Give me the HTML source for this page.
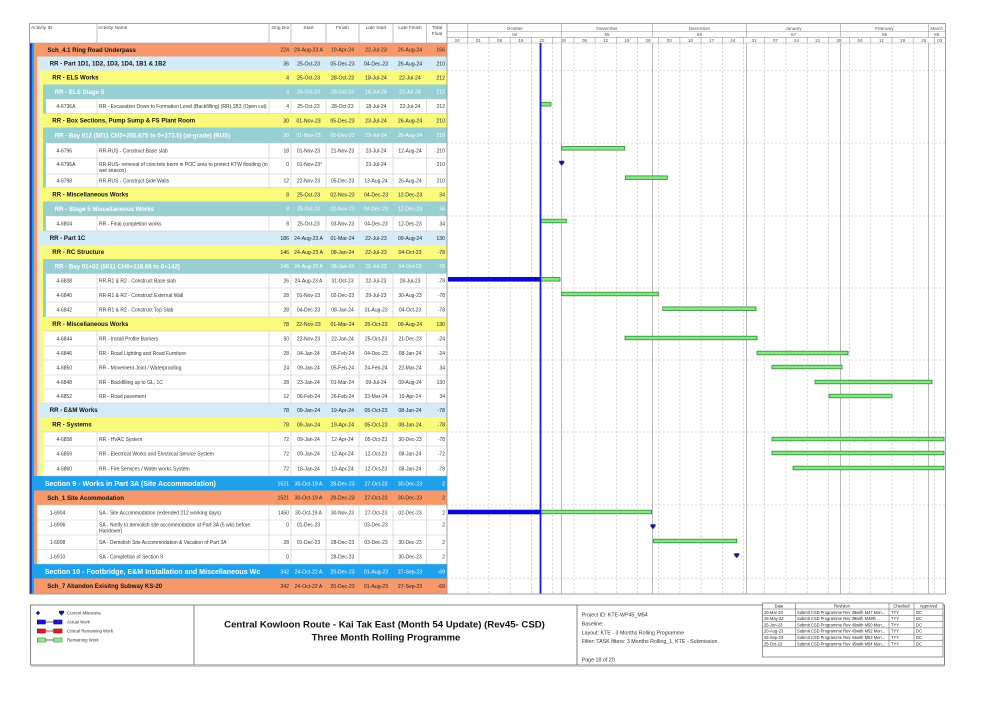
<!DOCTYPE html>
<html><head><meta charset="utf-8"><style>
html,body{margin:0;padding:0;background:#fff;}
svg{display:block;}
.a{font-size:5px;fill:#333;}
.g{font-size:6.1px;font-weight:bold;fill:#111;}
.s{font-size:7.1px;font-weight:bold;fill:#fff;}
.n{font-size:5.2px;fill:#222;}
.w{fill:#fff;}
.c{text-anchor:middle;}
.e{text-anchor:end;}
.h{font-size:4.8px;fill:#444;}
.t{font-size:4.6px;fill:#555;}
.lg{font-size:4.3px;fill:#333;}
.rv{font-size:4.1px;fill:#222;}
.pi{font-size:5.3px;fill:#333;}
</style></head><body>
<svg width="1001" height="708" viewBox="0 0 1001 708" font-family="Liberation Sans, Arial, sans-serif">
<rect width="1001" height="708" fill="#fff"/>

<!-- group blocks -->
<rect x="30" y="43" width="417" height="550.5" fill="#1c2fb0"/>
<rect x="31.8" y="43" width="415.2" height="550.5" fill="#1ea1ea"/>
<rect x="34" y="43" width="413" height="433" fill="#f8996b"/>
<rect x="34" y="490.5" width="413" height="73.5" fill="#f8996b"/>
<rect x="34" y="578.5" width="413" height="15" fill="#f8996b"/>
<rect x="37" y="56.5" width="410" height="174.5" fill="#d5ebf7"/>
<rect x="37" y="231" width="410" height="172" fill="#d5ebf7"/>
<rect x="37" y="403" width="410" height="73" fill="#d5ebf7"/>
<rect x="40" y="70.5" width="407" height="43" fill="#fafa7d"/>
<rect x="40" y="113.5" width="407" height="74" fill="#fafa7d"/>
<rect x="40" y="187.5" width="407" height="43.5" fill="#fafa7d"/>
<rect x="40" y="245" width="407" height="72" fill="#fafa7d"/>
<rect x="40" y="317" width="407" height="86" fill="#fafa7d"/>
<rect x="40" y="417" width="407" height="59" fill="#fafa7d"/>
<rect x="43" y="84.5" width="404" height="29" fill="#98cfd3"/>
<rect x="43" y="127.5" width="404" height="60" fill="#98cfd3"/>
<rect x="43" y="201.5" width="404" height="29.5" fill="#98cfd3"/>
<rect x="43" y="259" width="404" height="58" fill="#98cfd3"/>
<!-- white activity rows -->
<rect x="46" y="99" width="401" height="14.5" fill="#fff"/>
<rect x="46" y="143" width="401" height="44.5" fill="#fff"/>
<rect x="46" y="216" width="401" height="15" fill="#fff"/>
<rect x="46" y="273.5" width="401" height="43.5" fill="#fff"/>
<rect x="43" y="331" width="404" height="72" fill="#fff"/>
<rect x="43" y="432" width="404" height="44" fill="#fff"/>
<rect x="37" y="505" width="410" height="59" fill="#fff"/>

<!-- row lines in activity areas -->
<g stroke="#c8c8c8" stroke-width="0.6">
<line x1="46" y1="99" x2="447" y2="99"/><line x1="46" y1="113.5" x2="447" y2="113.5"/>
<line x1="46" y1="143" x2="447" y2="143"/><line x1="46" y1="158" x2="447" y2="158"/><line x1="46" y1="174" x2="447" y2="174"/><line x1="46" y1="187.5" x2="447" y2="187.5"/>
<line x1="46" y1="216" x2="447" y2="216"/><line x1="46" y1="231" x2="447" y2="231"/>
<line x1="46" y1="273.5" x2="447" y2="273.5"/><line x1="46" y1="288" x2="447" y2="288"/><line x1="46" y1="302" x2="447" y2="302"/><line x1="46" y1="317" x2="447" y2="317"/>
<line x1="43" y1="331" x2="447" y2="331"/><line x1="43" y1="346" x2="447" y2="346"/><line x1="43" y1="360" x2="447" y2="360"/><line x1="43" y1="375" x2="447" y2="375"/><line x1="43" y1="389" x2="447" y2="389"/><line x1="43" y1="403" x2="447" y2="403"/>
<line x1="43" y1="432" x2="447" y2="432"/><line x1="43" y1="446" x2="447" y2="446"/><line x1="43" y1="461" x2="447" y2="461"/><line x1="43" y1="476" x2="447" y2="476"/>
<line x1="37" y1="505" x2="447" y2="505"/><line x1="37" y1="520" x2="447" y2="520"/><line x1="37" y1="535" x2="447" y2="535"/><line x1="37" y1="549.5" x2="447" y2="549.5"/><line x1="37" y1="564" x2="447" y2="564"/>
</g>
<!-- column lines in activity rows -->
<g stroke="#c8c8c8" stroke-width="0.6">
<path d="M97 99V113.5M269 99V113.5M291 99V113.5M326 99V113.5M359 99V113.5M393 99V113.5M426.7 99V113.5"/>
<path d="M97 143V187.5M269 143V187.5M291 143V187.5M326 143V187.5M359 143V187.5M393 143V187.5M426.7 143V187.5"/>
<path d="M97 216V231M269 216V231M291 216V231M326 216V231M359 216V231M393 216V231M426.7 216V231"/>
<path d="M97 273.5V317M269 273.5V317M291 273.5V317M326 273.5V317M359 273.5V317M393 273.5V317M426.7 273.5V317"/>
<path d="M97 331V403M269 331V403M291 331V403M326 331V403M359 331V403M393 331V403M426.7 331V403"/>
<path d="M97 432V476M269 432V476M291 432V476M326 432V476M359 432V476M393 432V476M426.7 432V476"/>
<path d="M97 505V564M269 505V564M291 505V564M326 505V564M359 505V564M393 505V564M426.7 505V564"/>
</g>

<!-- table header -->
<rect x="30" y="24" width="417" height="19" fill="#fff"/>
<g stroke="#9a9a9a" stroke-width="0.6">
<path d="M97 24V43M269 24V43M291 24V43M326 24V43M359 24V43M393 24V43M426.7 24V43"/>
<line x1="30" y1="43" x2="945" y2="43"/>
</g>
<text class="h" x="31" y="29">Activity ID</text>
<text class="h" x="98" y="29">Activity Name</text>
<text class="h" x="271.5" y="29">Orig Dur</text>
<text class="h c" x="308.5" y="29">Start</text>
<text class="h c" x="342.5" y="29">Finish</text>
<text class="h c" x="376" y="29">Late Start</text>
<text class="h c" x="410" y="29">Late Finish</text>
<text class="h c" x="437" y="29">Total</text>
<text class="h c" x="437" y="35">Float</text>

<!-- timeline header -->
<g stroke="#9a9a9a" stroke-width="0.6" fill="none">
<line x1="447" y1="31.5" x2="945" y2="31.5"/>
<line x1="447" y1="37.3" x2="945" y2="37.3"/>
<path d="M467.8 24V37.3M561.7 24V37.3M652.6 24V37.3M746.6 24V37.3M840.5 24V37.3M928.4 24V37.3"/>
<path d="M467.8 37.3V43M489 37.3V43M510.2 37.3V43M531.4 37.3V43M552.6 37.3V43M573.9 37.3V43M595.1 37.3V43M616.3 37.3V43M637.5 37.3V43M658.7 37.3V43M679.9 37.3V43M701.1 37.3V43M722.3 37.3V43M743.5 37.3V43M764.7 37.3V43M786 37.3V43M807.2 37.3V43M828.4 37.3V43M849.6 37.3V43M870.8 37.3V43M892 37.3V43M913.2 37.3V43M934.4 37.3V43"/>
</g>
<g class="t c">
<text x="514.8" y="30">October</text><text x="607" y="30">November</text><text x="699.6" y="30">December</text><text x="793.5" y="30">January</text><text x="884.5" y="30">February</text><text x="936.7" y="30">March</text>
<text x="514.8" y="36">54</text><text x="607" y="36">55</text><text x="699.6" y="36">56</text><text x="793.5" y="36">57</text><text x="884.5" y="36">58</text><text x="936.7" y="36">59</text>
<text x="457.2" y="41.8">24</text><text x="478.4" y="41.8">01</text><text x="499.6" y="41.8">08</text><text x="520.8" y="41.8">15</text><text x="542" y="41.8">22</text><text x="563.3" y="41.8">29</text><text x="584.5" y="41.8">05</text><text x="605.7" y="41.8">12</text><text x="626.9" y="41.8">19</text><text x="648.1" y="41.8">26</text><text x="669.3" y="41.8">03</text><text x="690.5" y="41.8">10</text><text x="711.7" y="41.8">17</text><text x="732.9" y="41.8">24</text><text x="754.1" y="41.8">31</text><text x="775.4" y="41.8">07</text><text x="796.6" y="41.8">14</text><text x="817.8" y="41.8">21</text><text x="839" y="41.8">28</text><text x="860.2" y="41.8">04</text><text x="881.4" y="41.8">11</text><text x="902.6" y="41.8">18</text><text x="923.8" y="41.8">25</text><text x="939.7" y="41.8">03</text>
</g>

<!-- timeline grid -->
<g stroke="#bdbdbd" stroke-width="0.6" stroke-dasharray="2,2">
<path d="M467.8 43V593.5M489 43V593.5M510.2 43V593.5M531.4 43V593.5M552.6 43V593.5M573.9 43V593.5M595.1 43V593.5M616.3 43V593.5M637.5 43V593.5M658.7 43V593.5M679.9 43V593.5M701.1 43V593.5M722.3 43V593.5M743.5 43V593.5M764.7 43V593.5M786 43V593.5M807.2 43V593.5M828.4 43V593.5M849.6 43V593.5M870.8 43V593.5M892 43V593.5M913.2 43V593.5M934.4 43V593.5"/>
<path d="M447 70.5H945M447 143H945M447 216H945M447 288H945M447 360H945M447 432H945M447 505H945M447 578.5H945"/>
</g>
<g stroke="#9a9a9a" stroke-width="0.7">
<path d="M561.7 43V593.5M652.6 43V593.5M746.6 43V593.5M840.5 43V593.5M928.4 43V593.5"/>
</g>

<!-- outer frame -->
<rect x="29.5" y="23.5" width="916" height="570.5" fill="none" stroke="#8a8a8a" stroke-width="0.8"/>
<line x1="447" y1="23.5" x2="447" y2="594" stroke="#8a8a8a" stroke-width="0.8"/>

<!-- rows text -->
<!-- r1 -->
<text class="g" x="47.5" y="52">Sch_4.1 Ring Road Underpass</text>
<text class="n e" x="289" y="51.6">224</text><text class="n c" x="308.5" y="51.6">24-Aug-23 A</text><text class="n c" x="342.5" y="51.6">19-Apr-24</text><text class="n c" x="376" y="51.6">22-Jul-23</text><text class="n c" x="410" y="51.6">26-Aug-24</text><text class="n e" x="445" y="51.6">166</text>
<!-- r2 -->
<text class="g" x="49.7" y="65.6">RR - Part 1D1, 1D2, 1D3, 1D4, 1B1 &amp; 1B2</text>
<text class="n e" x="289" y="65.3">36</text><text class="n c" x="308.5" y="65.3">25-Oct-23</text><text class="n c" x="342.5" y="65.3">05-Dec-23</text><text class="n c" x="376" y="65.3">04-Dec-23</text><text class="n c" x="410" y="65.3">26-Aug-24</text><text class="n e" x="445" y="65.3">210</text>
<!-- r3 -->
<text class="g" x="52.3" y="79.6">RR - ELS Works</text>
<text class="n e" x="289" y="79.3">4</text><text class="n c" x="308.5" y="79.3">25-Oct-23</text><text class="n c" x="342.5" y="79.3">28-Oct-23</text><text class="n c" x="376" y="79.3">18-Jul-24</text><text class="n c" x="410" y="79.3">22-Jul-24</text><text class="n e" x="445" y="79.3">212</text>
<!-- r4 teal -->
<text class="g w" x="54.7" y="93.9">RR - ELS Stage 5</text>
<text class="n e w" x="289" y="93.6">4</text><text class="n c w" x="308.5" y="93.6">25-Oct-23</text><text class="n c w" x="342.5" y="93.6">28-Oct-23</text><text class="n c w" x="376" y="93.6">18-Jul-24</text><text class="n c w" x="410" y="93.6">22-Jul-24</text><text class="n e w" x="445" y="93.6">212</text>
<!-- r5 -->
<text class="a" x="56.5" y="108">4-6736A</text><text class="a" x="99" y="108">RR - Excavation Down to Formation Level (Backfilling) (RR),1B3 (Open cut)</text>
<text class="a e" x="289" y="108">4</text><text class="a c" x="308.5" y="108">25-Oct-23</text><text class="a c" x="342.5" y="108">28-Oct-23</text><text class="a c" x="376" y="108">18-Jul-24</text><text class="a c" x="410" y="108">22-Jul-24</text><text class="a e" x="445" y="108">212</text>
<!-- r6 -->
<text class="g" x="52.3" y="122.6">RR - Box Sections, Pump Sump &amp; FS Plant Room</text>
<text class="n e" x="289" y="122.3">30</text><text class="n c" x="308.5" y="122.3">01-Nov-23</text><text class="n c" x="342.5" y="122.3">05-Dec-23</text><text class="n c" x="376" y="122.3">23-Jul-24</text><text class="n c" x="410" y="122.3">26-Aug-24</text><text class="n e" x="445" y="122.3">210</text>
<!-- r7 teal -->
<text class="g w" x="54.7" y="137.4">RR - Bay 812 (5011 CH0+265.675 to 0+273.5) (at-grade) (RUS)</text>
<text class="n e w" x="289" y="137.1">30</text><text class="n c w" x="308.5" y="137.1">01-Nov-23</text><text class="n c w" x="342.5" y="137.1">05-Dec-23</text><text class="n c w" x="376" y="137.1">23-Jul-24</text><text class="n c w" x="410" y="137.1">26-Aug-24</text><text class="n e w" x="445" y="137.1">210</text>
<!-- r8 -->
<text class="a" x="56.5" y="152.3">4-6796</text><text class="a" x="99" y="152.3">RR-RUS - Construct Base slab</text>
<text class="a e" x="289" y="152.3">18</text><text class="a c" x="308.5" y="152.3">01-Nov-23</text><text class="a c" x="342.5" y="152.3">21-Nov-23</text><text class="a c" x="376" y="152.3">23-Jul-24</text><text class="a c" x="410" y="152.3">12-Aug-24</text><text class="a e" x="445" y="152.3">210</text>
<!-- r9 -->
<text class="a" x="56.5" y="165.8">4-6796A</text><text class="a" x="99" y="165.8">RR-RUS- removal of concrete berm in POC area to protect KTW flooding (in</text><text class="a" x="99" y="171.8">wet season)</text>
<text class="a e" x="289" y="165.8">0</text><text class="a c" x="309.5" y="165.8">01-Nov-23*</text><text class="a c" x="376" y="165.8">23-Jul-24</text><text class="a e" x="445" y="165.8">210</text>
<!-- r10 -->
<text class="a" x="56.5" y="182.5">4-6798</text><text class="a" x="99" y="182.5">RR-RUS - Construct Side Walls</text>
<text class="a e" x="289" y="182.5">12</text><text class="a c" x="308.5" y="182.5">22-Nov-23</text><text class="a c" x="342.5" y="182.5">05-Dec-23</text><text class="a c" x="376" y="182.5">13-Aug-24</text><text class="a c" x="410" y="182.5">26-Aug-24</text><text class="a e" x="445" y="182.5">210</text>
<!-- r11 -->
<text class="g" x="52.3" y="196.6">RR - Miscellaneous Works</text>
<text class="n e" x="289" y="196.3">8</text><text class="n c" x="308.5" y="196.3">25-Oct-23</text><text class="n c" x="342.5" y="196.3">02-Nov-23</text><text class="n c" x="376" y="196.3">04-Dec-23</text><text class="n c" x="410" y="196.3">12-Dec-23</text><text class="n e" x="445" y="196.3">34</text>
<!-- r12 teal -->
<text class="g w" x="54.7" y="210.9">RR - Stage 5 Miscellaneous Works</text>
<text class="n e w" x="289" y="210.6">8</text><text class="n c w" x="308.5" y="210.6">25-Oct-23</text><text class="n c w" x="342.5" y="210.6">02-Nov-23</text><text class="n c w" x="376" y="210.6">04-Dec-23</text><text class="n c w" x="410" y="210.6">12-Dec-23</text><text class="n e w" x="445" y="210.6">34</text>
<!-- r13 -->
<text class="a" x="56.5" y="225.3">4-6804</text><text class="a" x="99" y="225.3">RR - Final completion works</text>
<text class="a e" x="289" y="225.3">8</text><text class="a c" x="308.5" y="225.3">25-Oct-23</text><text class="a c" x="342.5" y="225.3">03-Nov-23</text><text class="a c" x="376" y="225.3">04-Dec-23</text><text class="a c" x="410" y="225.3">12-Dec-23</text><text class="a e" x="445" y="225.3">34</text>
<!-- r14 -->
<text class="g" x="49.7" y="240.1">RR - Part 1C</text>
<text class="n e" x="289" y="239.8">186</text><text class="n c" x="308.5" y="239.8">24-Aug-23 A</text><text class="n c" x="342.5" y="239.8">01-Mar-24</text><text class="n c" x="376" y="239.8">22-Jul-23</text><text class="n c" x="410" y="239.8">09-Aug-24</text><text class="n e" x="445" y="239.8">130</text>
<!-- r15 -->
<text class="g" x="52.3" y="254.1">RR - RC Structure</text>
<text class="n e" x="289" y="253.8">146</text><text class="n c" x="308.5" y="253.8">24-Aug-23 A</text><text class="n c" x="342.5" y="253.8">08-Jan-24</text><text class="n c" x="376" y="253.8">22-Jul-23</text><text class="n c" x="410" y="253.8">04-Oct-23</text><text class="n e" x="445" y="253.8">-78</text>
<!-- r16 teal -->
<text class="g w" x="54.7" y="268.4">RR - Bay 01+02 (5011 CH0+118.88 to 0+142)</text>
<text class="n e w" x="289" y="268.1">146</text><text class="n c w" x="308.5" y="268.1">24-Aug-23 A</text><text class="n c w" x="342.5" y="268.1">08-Jan-24</text><text class="n c w" x="376" y="268.1">22-Jul-23</text><text class="n c w" x="410" y="268.1">04-Oct-23</text><text class="n e w" x="445" y="268.1">-78</text>
<!-- r17 -->
<text class="a" x="56.5" y="282.5">4-6838</text><text class="a" x="99" y="282.5">RR-R1 &amp; R2 - Construct Base slab</text>
<text class="a e" x="289" y="282.5">26</text><text class="a c" x="308.5" y="282.5">24-Aug-23 A</text><text class="a c" x="342.5" y="282.5">31-Oct-23</text><text class="a c" x="376" y="282.5">22-Jul-23</text><text class="a c" x="410" y="282.5">28-Jul-23</text><text class="a e" x="445" y="282.5">-78</text>
<!-- r18 -->
<text class="a" x="56.5" y="296.8">4-6840</text><text class="a" x="99" y="296.8">RR-R1 &amp; R2 - Construct External Wall</text>
<text class="a e" x="289" y="296.8">28</text><text class="a c" x="308.5" y="296.8">01-Nov-23</text><text class="a c" x="342.5" y="296.8">02-Dec-23</text><text class="a c" x="376" y="296.8">29-Jul-23</text><text class="a c" x="410" y="296.8">30-Aug-23</text><text class="a e" x="445" y="296.8">-78</text>
<!-- r19 -->
<text class="a" x="56.5" y="311.3">4-6842</text><text class="a" x="99" y="311.3">RR-R1 &amp; R2 - Construct Top Slab</text>
<text class="a e" x="289" y="311.3">28</text><text class="a c" x="308.5" y="311.3">04-Dec-23</text><text class="a c" x="342.5" y="311.3">08-Jan-24</text><text class="a c" x="376" y="311.3">31-Aug-23</text><text class="a c" x="410" y="311.3">04-Oct-23</text><text class="a e" x="445" y="311.3">-78</text>
<!-- r20 -->
<text class="g" x="52.3" y="326.1">RR - Miscellaneous Works</text>
<text class="n e" x="289" y="325.8">78</text><text class="n c" x="308.5" y="325.8">22-Nov-23</text><text class="n c" x="342.5" y="325.8">01-Mar-24</text><text class="n c" x="376" y="325.8">25-Oct-23</text><text class="n c" x="410" y="325.8">09-Aug-24</text><text class="n e" x="445" y="325.8">130</text>
<!-- r21 -->
<text class="a" x="56.5" y="340.3">4-6844</text><text class="a" x="99" y="340.3">RR - Install Profile Barriers</text>
<text class="a e" x="289" y="340.3">50</text><text class="a c" x="308.5" y="340.3">22-Nov-23</text><text class="a c" x="342.5" y="340.3">22-Jan-24</text><text class="a c" x="376" y="340.3">25-Oct-23</text><text class="a c" x="410" y="340.3">21-Dec-23</text><text class="a e" x="445" y="340.3">-24</text>
<!-- r22 -->
<text class="a" x="56.5" y="354.8">4-6846</text><text class="a" x="99" y="354.8">RR - Road Lighting and Road Furniture</text>
<text class="a e" x="289" y="354.8">28</text><text class="a c" x="308.5" y="354.8">04-Jan-24</text><text class="a c" x="342.5" y="354.8">05-Feb-24</text><text class="a c" x="376" y="354.8">04-Dec-23</text><text class="a c" x="410" y="354.8">08-Jan-24</text><text class="a e" x="445" y="354.8">-24</text>
<!-- r23 -->
<text class="a" x="56.5" y="369.3">4-6850</text><text class="a" x="99" y="369.3">RR - Movement Joint / Waterproofing</text>
<text class="a e" x="289" y="369.3">24</text><text class="a c" x="308.5" y="369.3">09-Jan-24</text><text class="a c" x="342.5" y="369.3">05-Feb-24</text><text class="a c" x="376" y="369.3">24-Feb-24</text><text class="a c" x="410" y="369.3">22-Mar-24</text><text class="a e" x="445" y="369.3">34</text>
<!-- r24 -->
<text class="a" x="56.5" y="383.8">4-6848</text><text class="a" x="99" y="383.8">RR - Backfilling up to GL, 1C</text>
<text class="a e" x="289" y="383.8">28</text><text class="a c" x="308.5" y="383.8">23-Jan-24</text><text class="a c" x="342.5" y="383.8">01-Mar-24</text><text class="a c" x="376" y="383.8">09-Jul-24</text><text class="a c" x="410" y="383.8">09-Aug-24</text><text class="a e" x="445" y="383.8">130</text>
<!-- r25 -->
<text class="a" x="56.5" y="397.8">4-6852</text><text class="a" x="99" y="397.8">RR - Road pavement</text>
<text class="a e" x="289" y="397.8">12</text><text class="a c" x="308.5" y="397.8">06-Feb-24</text><text class="a c" x="342.5" y="397.8">26-Feb-24</text><text class="a c" x="376" y="397.8">23-Mar-24</text><text class="a c" x="410" y="397.8">10-Apr-24</text><text class="a e" x="445" y="397.8">34</text>
<!-- r26 -->
<text class="g" x="49.7" y="412.1">RR - E&amp;M Works</text>
<text class="n e" x="289" y="411.8">78</text><text class="n c" x="308.5" y="411.8">09-Jan-24</text><text class="n c" x="342.5" y="411.8">19-Apr-24</text><text class="n c" x="376" y="411.8">05-Oct-23</text><text class="n c" x="410" y="411.8">08-Jan-24</text><text class="n e" x="445" y="411.8">-78</text>
<!-- r27 -->
<text class="g" x="52.3" y="426.6">RR - Systems</text>
<text class="n e" x="289" y="426.3">78</text><text class="n c" x="308.5" y="426.3">09-Jan-24</text><text class="n c" x="342.5" y="426.3">19-Apr-24</text><text class="n c" x="376" y="426.3">05-Oct-23</text><text class="n c" x="410" y="426.3">08-Jan-24</text><text class="n e" x="445" y="426.3">-78</text>
<!-- r28 -->
<text class="a" x="56.5" y="440.8">4-6858</text><text class="a" x="99" y="440.8">RR - HVAC System</text>
<text class="a e" x="289" y="440.8">72</text><text class="a c" x="308.5" y="440.8">09-Jan-24</text><text class="a c" x="342.5" y="440.8">12-Apr-24</text><text class="a c" x="376" y="440.8">05-Oct-23</text><text class="a c" x="410" y="440.8">30-Dec-23</text><text class="a e" x="445" y="440.8">-78</text>
<!-- r29 -->
<text class="a" x="56.5" y="455.3">4-6859</text><text class="a" x="99" y="455.3">RR - Electrical Works and Electrical Service System</text>
<text class="a e" x="289" y="455.3">72</text><text class="a c" x="308.5" y="455.3">09-Jan-24</text><text class="a c" x="342.5" y="455.3">12-Apr-24</text><text class="a c" x="376" y="455.3">12-Oct-23</text><text class="a c" x="410" y="455.3">08-Jan-24</text><text class="a e" x="445" y="455.3">-72</text>
<!-- r30 -->
<text class="a" x="56.5" y="470.3">4-6860</text><text class="a" x="99" y="470.3">RR - Fire Services / Water works System</text>
<text class="a e" x="289" y="470.3">72</text><text class="a c" x="308.5" y="470.3">16-Jan-24</text><text class="a c" x="342.5" y="470.3">19-Apr-24</text><text class="a c" x="376" y="470.3">12-Oct-23</text><text class="a c" x="410" y="470.3">08-Jan-24</text><text class="a e" x="445" y="470.3">-78</text>
<!-- r31 section -->
<text class="s" x="44.7" y="485.8">Section 9 - Works in Part 3A (Site Accommodation)</text>
<text class="n e w" x="289" y="485.3">1521</text><text class="n c w" x="308.5" y="485.3">30-Oct-19 A</text><text class="n c w" x="342.5" y="485.3">28-Dec-23</text><text class="n c w" x="376" y="485.3">27-Oct-23</text><text class="n c w" x="410" y="485.3">30-Dec-23</text><text class="n e w" x="445" y="485.3">2</text>
<!-- r32 -->
<text class="g" x="47.3" y="499.9">Sch_1 Site Acommodation</text>
<text class="n e" x="289" y="499.6">1521</text><text class="n c" x="308.5" y="499.6">30-Oct-19 A</text><text class="n c" x="342.5" y="499.6">28-Dec-23</text><text class="n c" x="376" y="499.6">27-Oct-23</text><text class="n c" x="410" y="499.6">30-Dec-23</text><text class="n e" x="445" y="499.6">2</text>
<!-- r33 -->
<text class="a" x="49.7" y="514.3">1-6904</text><text class="a" x="99" y="514.3">SA - Site Accommodation (extended 212 working days)</text>
<text class="a e" x="289" y="514.3">1450</text><text class="a c" x="308.5" y="514.3">30-Oct-19 A</text><text class="a c" x="342.5" y="514.3">30-Nov-23</text><text class="a c" x="376" y="514.3">27-Oct-23</text><text class="a c" x="410" y="514.3">02-Dec-23</text><text class="a e" x="445" y="514.3">2</text>
<!-- r34 -->
<text class="a" x="49.7" y="526.5">1-6906</text><text class="a" x="99" y="526.5">SA - Notify to demolish site accommodation at Part 3A (5 wks before</text><text class="a" x="99" y="532.5">Handover)</text>
<text class="a e" x="289" y="526.5">0</text><text class="a c" x="308.5" y="526.5">01-Dec-23</text><text class="a c" x="376" y="526.5">03-Dec-23</text><text class="a e" x="445" y="526.5">2</text>
<!-- r35 -->
<text class="a" x="49.7" y="544">1-6908</text><text class="a" x="99" y="544">SA - Demolish Site Accommodation &amp; Vacation of Part 3A</text>
<text class="a e" x="289" y="544">28</text><text class="a c" x="308.5" y="544">01-Dec-23</text><text class="a c" x="342.5" y="544">28-Dec-23</text><text class="a c" x="376" y="544">03-Dec-23</text><text class="a c" x="410" y="544">30-Dec-23</text><text class="a e" x="445" y="544">2</text>
<!-- r36 -->
<text class="a" x="49.7" y="558.5">1-6910</text><text class="a" x="99" y="558.5">SA - Completion of Section 9</text>
<text class="a e" x="289" y="558.5">0</text><text class="a c" x="342.5" y="558.5">28-Dec-23</text><text class="a c" x="410" y="558.5">30-Dec-23</text><text class="a e" x="445" y="558.5">2</text>
<!-- r37 section -->
<text class="s" x="44.7" y="573.8">Section 10 - Footbridge, E&amp;M Installation and Miscellaneous Wc</text>
<text class="n e w" x="289" y="573.3">342</text><text class="n c w" x="308.5" y="573.3">24-Oct-22 A</text><text class="n c w" x="342.5" y="573.3">20-Dec-23</text><text class="n c w" x="376" y="573.3">01-Aug-23</text><text class="n c w" x="410" y="573.3">27-Sep-23</text><text class="n e w" x="445" y="573.3">-69</text>
<!-- r38 -->
<text class="g" x="47.3" y="588.1">Sch_7 Abandon Exisitng Subway KS-20</text>
<text class="n e" x="289" y="587.8">342</text><text class="n c" x="308.5" y="587.8">24-Oct-22 A</text><text class="n c" x="342.5" y="587.8">20-Dec-23</text><text class="n c" x="376" y="587.8">01-Aug-23</text><text class="n c" x="410" y="587.8">27-Sep-23</text><text class="n e" x="445" y="587.8">-69</text>

<!-- bars -->
<g fill="#0a0ad0">
<rect x="448" y="277" width="92.5" height="4.6"/>
<rect x="448" y="509.7" width="92.5" height="4.6"/>
</g>
<g fill="#86e586" stroke="#2e8b2e" stroke-width="0.8">
<rect x="540.5" y="102.5" width="10.5" height="3.6"/>
<rect x="561.7" y="146.5" width="62.8" height="3.6"/>
<rect x="625.3" y="175.9" width="42" height="3.6"/>
<rect x="540.5" y="219.2" width="25.8" height="3.6"/>
<rect x="540.5" y="277.5" width="19.5" height="3.6"/>
<rect x="561.7" y="292.2" width="96.6" height="3.6"/>
<rect x="662.7" y="306.9" width="93.3" height="3.6"/>
<rect x="625" y="336.2" width="132" height="3.6"/>
<rect x="757" y="351.2" width="91" height="3.6"/>
<rect x="772" y="365.2" width="70" height="3.6"/>
<rect x="815" y="380.2" width="117" height="3.6"/>
<rect x="829" y="394.2" width="63" height="3.6"/>
<rect x="772" y="437.2" width="172" height="3.6"/>
<rect x="772" y="451.2" width="172" height="3.6"/>
<rect x="793" y="466.2" width="151" height="3.6"/>
<rect x="540.5" y="510.2" width="111.2" height="3.6"/>
<rect x="653.3" y="539.2" width="83.4" height="3.6"/>
</g>
<!-- milestones -->
<g fill="#1a1a8c">
<path d="M559.2 160.8H564.2V162.8L561.7 165.8L559.2 162.8Z"/>
<path d="M650.5 524.2H655.5V526.2L653 529.2L650.5 526.2Z"/>
<path d="M734.2 553.2H739.2V555.2L736.7 558.2L734.2 555.2Z"/>
</g>
<!-- data date -->
<line x1="540.5" y1="43" x2="540.5" y2="593.5" stroke="#1a1ae0" stroke-width="1.8"/>

<!-- footer -->
<rect x="30.5" y="605" width="914" height="60" fill="#fff" stroke="#666" stroke-width="0.8"/>
<line x1="31" y1="666.5" x2="945" y2="666.5" stroke="#bbb" stroke-width="0.8"/>
<g stroke="#666" stroke-width="0.8">
<line x1="194" y1="605" x2="194" y2="665"/>
<line x1="577" y1="605" x2="577" y2="665"/>
</g>
<!-- legend -->
<polygon points="38,610.8 40.2,613 38,615.2 35.8,613" fill="#1a1aa0"/>
<path d="M59 610.8H64V612.8L61.5 615.8L59 612.8Z" fill="#1a1a8c"/>
<text class="lg" x="67" y="614.5">Current Milestone</text>
<g stroke-width="0.6">
<line x1="45.3" y1="622" x2="53.7" y2="622" stroke="#000"/>
<rect x="37.3" y="620" width="8" height="4" fill="#1a1acc" stroke="#000080"/>
<rect x="53.7" y="620" width="8.3" height="4" fill="#1a1acc" stroke="#000080"/>
<line x1="45.3" y1="631" x2="53.7" y2="631" stroke="#000"/>
<rect x="37.3" y="629" width="8" height="4" fill="#e02020" stroke="#800"/>
<rect x="53.7" y="629" width="8.3" height="4" fill="#e02020" stroke="#800"/>
<line x1="45.3" y1="640" x2="53.7" y2="640" stroke="#000"/>
<rect x="37.3" y="638" width="8" height="4" fill="#90ee90" stroke="#2e8b2e"/>
<rect x="53.7" y="638" width="8.3" height="4" fill="#90ee90" stroke="#2e8b2e"/>
</g>
<text class="lg" x="67" y="623.5">Actual Work</text>
<text class="lg" x="67" y="632.5">Critical Remaining Work</text>
<text class="lg" x="67" y="641.5">Remaining Work</text>
<!-- title -->
<text x="384.5" y="627.5" font-size="9.6" font-weight="bold" fill="#111" text-anchor="middle">Central Kowloon Route - Kai Tak East (Month 54 Update) (Rev45- CSD)</text>
<text x="386" y="640.5" font-size="9.6" font-weight="bold" fill="#111" text-anchor="middle">Three Month Rolling Programme</text>
<!-- project info -->
<text class="pi" x="581.7" y="616.5">Project ID: KTE-WP45_M54</text>
<text class="pi" x="581.7" y="625.3">Baseline:</text>
<text class="pi" x="581.7" y="634.3">Layout: KTE - 3 Months Rolling Programme</text>
<text class="pi" x="581.7" y="643">Filter: TASK filters: 3 Months Rolling_1, KTE - Submission.</text>
<text class="pi" x="581.7" y="661.5">Page 18 of 20</text>
<!-- revision table -->
<rect x="762.5" y="603" width="180.5" height="54" fill="#fff" stroke="#555" stroke-width="0.6"/>
<g stroke="#555" stroke-width="0.5">
<path d="M762.5 609H943M762.5 615.3H943M762.5 621.6H943M762.5 627.9H943M762.5 634.2H943M762.5 640.5H943M762.5 646.8H943"/>
<path d="M795.5 603V646.8M889 603V646.8M914 603V646.8"/>
</g>
<text class="rv c" x="779" y="607.6">Date</text><text class="rv c" x="842" y="607.6">Revision</text><text class="rv c" x="901.5" y="607.6">Checked</text><text class="rv c" x="928.5" y="607.6">Approved</text>
<g class="rv">
<text x="764" y="613.8">20-Mar-23</text><text x="797" y="613.8">Submit CSD Programme Rev 39with M47 Mon...</text><text x="891" y="613.8">TYY</text><text x="916" y="613.8">DC</text>
<text x="764" y="620.1">25-May-23</text><text x="797" y="620.1">Submit CSD Programme Rev 39with M49th ...</text><text x="891" y="620.1">TYY</text><text x="916" y="620.1">DC</text>
<text x="764" y="626.4">25-Jun-23</text><text x="797" y="626.4">Submit CSD Programme Rev 40with M50 Mon...</text><text x="891" y="626.4">TYY</text><text x="916" y="626.4">DC</text>
<text x="764" y="632.7">20-Aug-23</text><text x="797" y="632.7">Submit CSD Programme Rev 43with M52 Mon...</text><text x="891" y="632.7">TYY</text><text x="916" y="632.7">DC</text>
<text x="764" y="639">25-Sep-23</text><text x="797" y="639">Submit CSD Programme Rev 44with M53 Mon...</text><text x="891" y="639">TYY</text><text x="916" y="639">DC</text>
<text x="764" y="645.3">25-Oct-23</text><text x="797" y="645.3">Submit CSD Programme Rev 45with M54 Mon...</text><text x="891" y="645.3">TYY</text><text x="916" y="645.3">DC</text>
</g>
</svg>
</body></html>
